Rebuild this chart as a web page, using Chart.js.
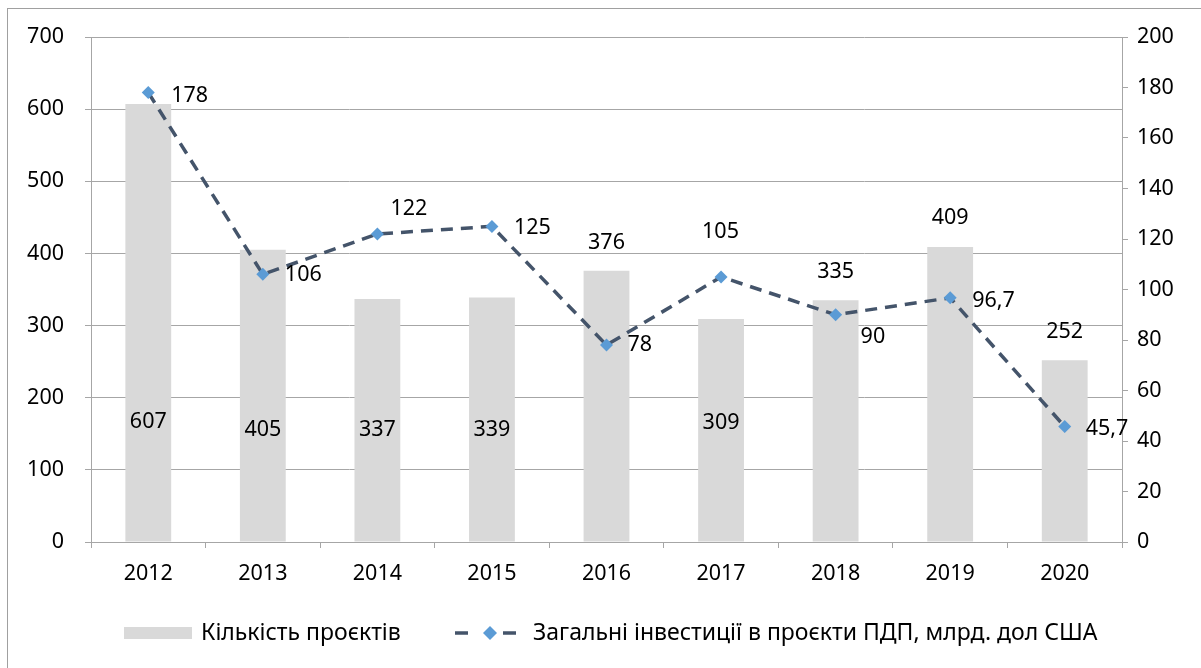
<!DOCTYPE html>
<html><head><meta charset="utf-8">
<script src="https://cdn.jsdelivr.net/npm/chart.js@4.4.1/dist/chart.umd.min.js"></script>
<style>
html,body{margin:0;padding:0;background:#fff;}
#wrap{position:relative;width:1201px;height:668px;overflow:hidden;}
#frame{position:absolute;left:7px;top:8px;width:1300px;height:800px;border-left:1px solid #a0a0a0;border-top:1px solid #a0a0a0;pointer-events:none;}
canvas{position:absolute;left:0;top:0;}
</style></head><body>
<div id="wrap"><canvas id="c" width="1201" height="668"></canvas><div id="frame"></div></div>
<script>
const years = ['2012','2013','2014','2015','2016','2017','2018','2019','2020'];
const projects = [607, 405, 337, 339, 376, 309, 335, 409, 252];
const investment = [178, 106, 122, 125, 78, 105, 90, 96.7, 45.7];
const seriesNames = ['Кількість проєктів', 'Загальні інвестиції в проєкти ПДП, млрд. дол США'];

const FONT = '"Noto Sans", "Open Sans", sans-serif';
const NUM_SIZE = 21.5;
const fmt = v => String(v).replace('.', ',');

// label placement (pixels): bars anchored at base or top, text centered
const barLabelPos = [['base',-120],['base',-112],['base',-112],['base',-112],['top',-28],['base',-119],['top',-28],['top',-29],['top',-28]];
// line labels: left-aligned text, offset from point
const lineLabelPos = [[23,3],[22,1],[13,-25],[22,1],[21,0],[-19,-45],[25,22],[22,3],[21,2]];

const labelPlugin = {
  id: 'labels',
  afterDatasetsDraw(chart) {
    const ctx = chart.ctx;
    ctx.save();
    ctx.font = NUM_SIZE + 'px ' + FONT;
    ctx.fillStyle = '#000';
    ctx.textBaseline = 'middle';
    const bm = chart.getDatasetMeta(0);
    bm.data.forEach((el, i) => {
      const p = barLabelPos[i];
      const y = (p[0] === 'base' ? el.base : el.y) + p[1];
      ctx.textAlign = 'center';
      ctx.fillText(fmt(projects[i]), el.x, y);
    });
    const lm = chart.getDatasetMeta(1);
    lm.data.forEach((el, i) => {
      const p = lineLabelPos[i];
      ctx.textAlign = 'left';
      ctx.fillText(fmt(investment[i]), el.x + p[0], el.y + p[1]);
    });
    ctx.restore();
  }
};

const legendPlugin = {
  id: 'customLegend',
  afterDraw(chart) {
    const ctx = chart.ctx;
    ctx.save();
    const y = 633;
    ctx.fillStyle = '#d9d9d9';
    ctx.fillRect(124, y - 6, 68, 12);
    ctx.font = '23px ' + FONT;
    ctx.fillStyle = '#000';
    ctx.textBaseline = 'middle';
    ctx.textAlign = 'left';
    ctx.fillText(seriesNames[0], 201, y);
    ctx.strokeStyle = '#44546a';
    ctx.lineWidth = 3.5;
    ctx.beginPath();
    ctx.moveTo(455, y); ctx.lineTo(468, y);
    ctx.moveTo(503, y); ctx.lineTo(516, y);
    ctx.stroke();
    ctx.fillStyle = '#5b9bd5';
    ctx.beginPath();
    ctx.moveTo(490, y - 7); ctx.lineTo(497, y); ctx.lineTo(490, y + 7); ctx.lineTo(483, y);
    ctx.closePath(); ctx.fill();
    ctx.fillStyle = '#000';
    ctx.fillText(seriesNames[1], 533, y);
    ctx.restore();
  }
};

const gridColor = '#a6a6a6';
new Chart(document.getElementById('c'), {
  data: {
    labels: years,
    datasets: [
      { type: 'bar', label: seriesNames[0], data: projects, yAxisID: 'y',
        backgroundColor: '#d9d9d9', barPercentage: 0.4, categoryPercentage: 1, order: 2 },
      { type: 'line', label: seriesNames[1], data: investment, yAxisID: 'y1',
        borderColor: '#44546a', borderWidth: 3.5, borderDash: [12, 8], tension: 0,
        pointStyle: 'rectRot', pointRadius: 6.5, pointBackgroundColor: '#5b9bd5',
        pointBorderColor: '#5b9bd5', pointBorderWidth: 0, order: 1 }
    ]
  },
  options: {
    responsive: false, animation: false, devicePixelRatio: 1,
    layout: { padding: { top: 37, left: 0, right: 0, bottom: 0 } },
    plugins: { legend: { display: false }, tooltip: { enabled: false } },
    scales: {
      x: {
        offset: true,
        grid: { offset: true, drawOnChartArea: false, drawTicks: true, tickLength: 6, color: gridColor },
        border: { display: true, color: gridColor },
        ticks: { font: { family: FONT, size: NUM_SIZE }, color: '#000', padding: 13 },
        afterFit: s => { s.height = 126; }
      },
      y: {
        position: 'left', min: 0, max: 700,
        ticks: { stepSize: 100, font: { family: FONT, size: NUM_SIZE }, color: '#000', padding: 21 },
        grid: { color: gridColor, tickLength: 6 },
        border: { display: true, color: gridColor },
        afterFit: s => { s.width = 91; }
      },
      y1: {
        position: 'right', min: 0, max: 200,
        ticks: { stepSize: 20, font: { family: FONT, size: NUM_SIZE }, color: '#000', padding: 9 },
        grid: { drawOnChartArea: false, color: gridColor, tickLength: 6 },
        border: { display: true, color: gridColor },
        afterFit: s => { s.width = 79; }
      }
    }
  },
  plugins: [labelPlugin, legendPlugin]
});
</script>
</body></html>
